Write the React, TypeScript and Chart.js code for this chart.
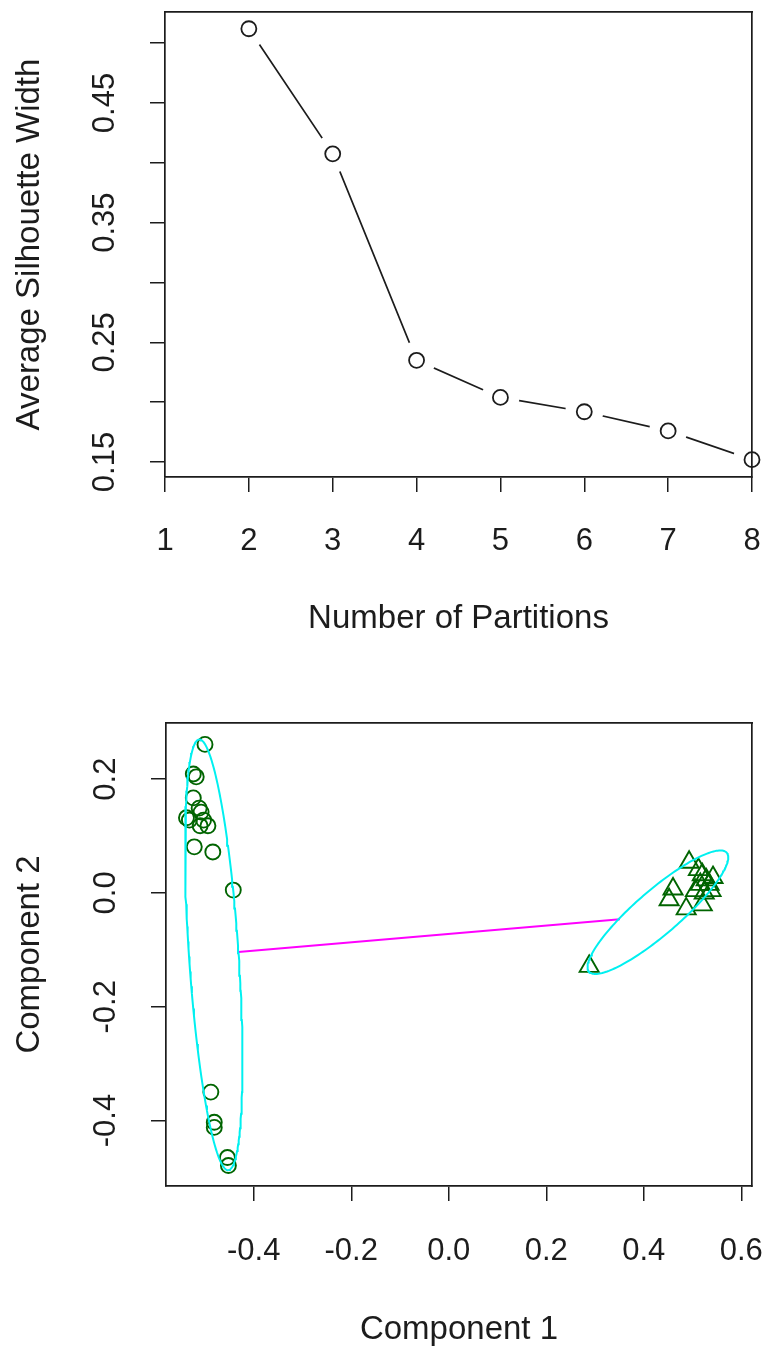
import React, { useEffect, useRef } from "react";
import { Chart, registerables } from "chart.js";

Chart.register(...registerables);

// ---------- Chart 1: silhouette width by number of partitions ----------
const partitionCounts = [2, 3, 4, 5, 6, 7, 8];
const avgSilhouette = [0.512, 0.4075, 0.235, 0.204, 0.192, 0.176, 0.152];
const partitionTicks = [1, 2, 3, 4, 5, 6, 7, 8];
const silhouetteTicks = [0.15, 0.2, 0.25, 0.3, 0.35, 0.4, 0.45, 0.5];
const silhouetteTickLabels = ["0.15", "0.25", "0.35", "0.45"];

// ---------- Chart 2: cluster plot ----------
const cluster1X = [
  -0.5, -0.524, -0.518, -0.524, -0.512, -0.508, -0.538, -0.532, -0.503, -0.51,
  -0.494, -0.522, -0.484, -0.442, -0.488, -0.481, -0.481, -0.454, -0.452,
];
const cluster1Y = [
  0.261, 0.209, 0.204, 0.167, 0.149, 0.142, 0.132, 0.128, 0.128, 0.118, 0.118,
  0.081, 0.072, 0.005, -0.35, -0.403, -0.412, -0.465, -0.479,
];
const cluster2X = [
  0.493, 0.46, 0.452, 0.487, 0.52, 0.512, 0.52, 0.528, 0.534, 0.516, 0.538,
  0.524, 0.506, 0.542, 0.288,
];
const cluster2Y = [
  0.054, 0.007, -0.012, -0.028, -0.021, 0.041, 0.032, 0.023, 0.015, 0.015,
  0.004, 0.0, 0.004, 0.027, -0.129,
];
// spanning ellipses: centre and two conjugate semi-axis vectors (data units)
const ellipseCenterX = [-0.482, 0.429];
const ellipseCenterY = [-0.1088, -0.0339];
const ellipseMajorX = [0.0297, 0.1413];
const ellipseMajorY = [-0.3785, 0.1045];
const ellipseMinorX = [0.0508, 0.0295];
const ellipseMinorY = [0.00276, -0.0293];
const ELLIPSE_STEPS = 180;
// segment joining the two ellipses
const linkX = [-0.4317, 0.3511];
const linkY = [-0.1036, -0.0462];
const comp1Ticks = [-0.4, -0.2, 0.0, 0.2, 0.4, 0.6];
const comp2Ticks = [-0.4, -0.2, 0.0, 0.2];

// ---------- styling ----------
const FONT_FAMILY = "'Liberation Sans', Arial, Helvetica, sans-serif";
const INK = "#1c1c1c";
const GREEN = "#006400";
const CYAN = "#00F0F0";
const MAGENTA = "#FF00FF";
const tickFont = { family: FONT_FAMILY, size: 31 };
const titleFont = { family: FONT_FAMILY, size: 33 };

const gridTicks = {
  display: true,
  drawOnChartArea: false,
  drawTicks: true,
  tickLength: 15,
  tickColor: INK,
  tickWidth: 1.5,
  lineWidth: 1.5,
  color: INK,
};
const frameBorder = { display: true, color: INK, width: 1.7, z: 1 };

function fixSize(s: any, size: number) {
  if (s.isHorizontal()) s.height = size;
  else s.width = size;
  s.paddingLeft = 0;
  s.paddingRight = 0;
  s.paddingTop = 0;
  s.paddingBottom = 0;
}

function frameAxis(axis: "x" | "y", position: string) {
  return {
    type: "linear",
    axis,
    position,
    display: true,
    min: 0,
    max: 1,
    ticks: { display: false },
    grid: { display: false, drawTicks: false },
    border: frameBorder,
    afterFit: (s: any) => fixSize(s, 0),
  };
}

function ellipseOutline(i: number) {
  const pts: { x: number; y: number }[] = [];
  for (let k = 0; k <= ELLIPSE_STEPS; k++) {
    const t = (2 * Math.PI * k) / ELLIPSE_STEPS;
    pts.push({
      x: ellipseCenterX[i] + ellipseMajorX[i] * Math.cos(t) + ellipseMinorX[i] * Math.sin(t),
      y: ellipseCenterY[i] + ellipseMajorY[i] * Math.cos(t) + ellipseMinorY[i] * Math.sin(t),
    });
  }
  return pts;
}

const baseOptions = {
  animation: false,
  responsive: false,
  devicePixelRatio: 1,
  events: [],
  plugins: { legend: { display: false }, tooltip: { enabled: false } },
};

function silhouetteConfig(): any {
  const pts = partitionCounts.map((p, i) => ({ x: p, y: avgSilhouette[i] }));
  return {
    type: "scatter",
    data: {
      datasets: [
        {
          data: pts,
          showLine: false,
          pointStyle: "circle",
          pointRadius: 7.5,
          pointBorderWidth: 1.8,
          pointBorderColor: INK,
          pointBackgroundColor: "rgba(0,0,0,0)",
          clip: false,
        },
        {
          data: pts,
          showLine: false,
          pointRadius: 19,
          pointBorderWidth: 0,
          pointBackgroundColor: "#ffffff",
          pointBorderColor: "#ffffff",
          clip: 0,
        },
        {
          data: pts,
          showLine: true,
          pointRadius: 0,
          borderColor: INK,
          borderWidth: 1.7,
          tension: 0,
          clip: 0,
        },
      ],
    },
    options: {
      ...baseOptions,
      layout: { autoPadding: false, padding: { left: 0, right: 14, top: 12, bottom: 0 } },
      scales: {
        x: {
          type: "linear",
          position: "bottom",
          min: 1,
          max: 8,
          afterBuildTicks: (s: any) => {
            s.ticks = partitionTicks.map((v) => ({ value: v }));
          },
          afterFit: (s: any) => fixSize(s, 203),
          ticks: {
            autoSkip: false,
            minRotation: 0,
            maxRotation: 0,
            padding: 31,
            font: tickFont,
            color: INK,
            callback: (v: any) => String(v),
          },
          grid: gridTicks,
          border: frameBorder,
          title: {
            display: true,
            text: "Number of Partitions",
            font: titleFont,
            color: INK,
            padding: { top: 0, bottom: 41 },
          },
        },
        y: {
          type: "linear",
          position: "left",
          min: 0.1375,
          max: 0.526,
          afterBuildTicks: (s: any) => {
            s.ticks = silhouetteTicks.map((v) => ({ value: v }));
          },
          afterFit: (s: any) => fixSize(s, 165),
          ticks: {
            autoSkip: false,
            minRotation: 90,
            maxRotation: 90,
            crossAlign: "center",
            padding: 14,
            font: tickFont,
            color: INK,
            callback: (v: any) => {
              const s = Number(v).toFixed(2);
              return silhouetteTickLabels.includes(s) ? s : "";
            },
          },
          grid: gridTicks,
          border: frameBorder,
          title: {
            display: true,
            text: "Average Silhouette Width",
            font: titleFont,
            color: INK,
            padding: { top: 10, bottom: 0 },
          },
        },
        x2: frameAxis("x", "top"),
        y2: frameAxis("y", "right"),
      },
    },
  };
}

function clusterConfig(): any {
  const circles = cluster1X.map((x, i) => ({ x, y: cluster1Y[i] }));
  const triangles = cluster2X.map((x, i) => ({ x, y: cluster2Y[i] }));
  const link = linkX.map((x, i) => ({ x, y: linkY[i] }));
  const lineStyle = { showLine: true, pointRadius: 0, tension: 0, clip: 0 };
  return {
    type: "scatter",
    data: {
      datasets: [
        { ...lineStyle, data: ellipseOutline(0), borderColor: CYAN, borderWidth: 2 },
        { ...lineStyle, data: ellipseOutline(1), borderColor: CYAN, borderWidth: 2 },
        { ...lineStyle, data: link, borderColor: MAGENTA, borderWidth: 2 },
        {
          data: circles,
          showLine: false,
          pointStyle: "circle",
          pointRadius: 7.5,
          pointBorderWidth: 1.9,
          pointBorderColor: GREEN,
          pointBackgroundColor: "rgba(0,0,0,0)",
          clip: false,
        },
        {
          data: triangles,
          showLine: false,
          pointStyle: "triangle",
          pointRadius: 11,
          pointBorderWidth: 1.9,
          pointBorderColor: GREEN,
          pointBackgroundColor: "rgba(0,0,0,0)",
          clip: false,
        },
      ],
    },
    options: {
      ...baseOptions,
      layout: { autoPadding: false, padding: { left: 0, right: 14, top: 43, bottom: 0 } },
      scales: {
        x: {
          type: "linear",
          position: "bottom",
          min: -0.58,
          max: 0.622,
          afterBuildTicks: (s: any) => {
            s.ticks = comp1Ticks.map((v) => ({ value: v }));
          },
          afterFit: (s: any) => fixSize(s, 162),
          ticks: {
            autoSkip: false,
            minRotation: 0,
            maxRotation: 0,
            padding: 32,
            font: tickFont,
            color: INK,
            callback: (v: any) => Number(v).toFixed(1),
          },
          grid: gridTicks,
          border: frameBorder,
          title: {
            display: true,
            text: "Component 1",
            font: titleFont,
            color: INK,
            padding: { top: 0, bottom: -2 },
          },
        },
        y: {
          type: "linear",
          position: "left",
          min: -0.515,
          max: 0.2986,
          afterBuildTicks: (s: any) => {
            s.ticks = comp2Ticks.map((v) => ({ value: v }));
          },
          afterFit: (s: any) => fixSize(s, 166),
          ticks: {
            autoSkip: false,
            minRotation: 90,
            maxRotation: 90,
            crossAlign: "center",
            padding: 18,
            font: tickFont,
            color: INK,
            callback: (v: any) => Number(v).toFixed(1),
          },
          grid: gridTicks,
          border: frameBorder,
          title: {
            display: true,
            text: "Component 2",
            font: titleFont,
            color: INK,
            padding: { top: 10, bottom: 0 },
          },
        },
        x2: frameAxis("x", "top"),
        y2: frameAxis("y", "right"),
      },
    },
  };
}

function ChartCanvas({ make, width, height, top }: any) {
  const ref = useRef<HTMLCanvasElement | null>(null);
  useEffect(() => {
    if (!ref.current) return;
    const chart = new Chart(ref.current, make());
    return () => chart.destroy();
  }, [make]);
  return (
    <canvas
      ref={ref}
      width={width}
      height={height}
      style={{ position: "absolute", left: 0, top, width, height, display: "block" }}
    />
  );
}

export default function App() {
  return (
    <div
      style={{
        position: "absolute",
        left: 0,
        top: 0,
        width: 766,
        height: 1348,
        background: "#ffffff",
        overflow: "hidden",
      }}
    >
      <ChartCanvas make={silhouetteConfig} width={766} height={680} top={0} />
      <ChartCanvas make={clusterConfig} width={766} height={668} top={680} />
    </div>
  );
}
